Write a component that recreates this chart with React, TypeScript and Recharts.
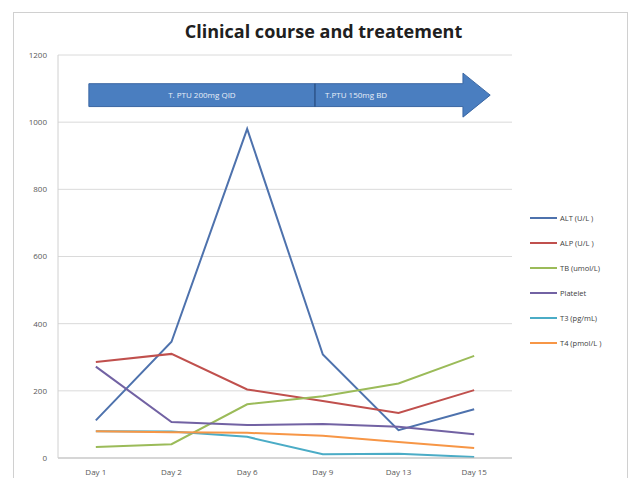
import { LineChart, Line, XAxis, YAxis, CartesianGrid, Legend, ReferenceArea } from 'recharts';

const days = ['Day 1', 'Day 2', 'Day 6', 'Day 9', 'Day 13', 'Day 15'];
const alt = [112, 346, 980, 308, 83, 145];
const alp = [286, 310, 204, 170, 134, 202];
const tb = [33, 41, 160, 184, 222, 304];
const platelet = [272, 107, 98, 101, 93, 71];
const t3 = [80, 79, 63, 11, 13, 3];
const t4 = [80, 77, 75, 66, 48, 30];
const yTicks = [0, 200, 400, 600, 800, 1000, 1200];

const series = [
  { key: 'alt', name: 'ALT (U/L )', color: '#4e72ad' },
  { key: 'alp', name: 'ALP (U/L )', color: '#c0504d' },
  { key: 'tb', name: 'TB  (umol/L)', color: '#9bbb59' },
  { key: 'platelet', name: 'Platelet', color: '#7262a3' },
  { key: 't3', name: 'T3 (pg/mL)', color: '#4bacc6' },
  { key: 't4', name: 'T4 (pmol/L )', color: '#f79646' },
];

const data = days.map((day, i) => ({
  day,
  alt: alt[i],
  alp: alp[i],
  tb: tb[i],
  platelet: platelet[i],
  t3: t3[i],
  t4: t4[i],
}));

const font = '"Open Sans", "Liberation Sans", sans-serif';

// treatment arrow drawn over the reference area box
function TreatmentArrow(props: any) {
  const { x, y, width, height } = props;
  const start = x + width * 0.068;
  const split = x + width * 0.566;
  const bodyEnd = x + width * 0.892;
  const tip = x + width * 0.952;
  const mid = y + height / 2;
  const body = height * 0.52;
  const path = [
    `M${start},${mid - body / 2}`,
    `L${bodyEnd},${mid - body / 2}`,
    `L${bodyEnd},${y}`,
    `L${tip},${mid}`,
    `L${bodyEnd},${y + height}`,
    `L${bodyEnd},${mid + body / 2}`,
    `L${start},${mid + body / 2}`,
    'Z',
  ].join(' ');
  return (
    <g>
      <path d={path} fill="#4a7ec0" stroke="#3b67a3" strokeWidth={1} />
      <line x1={split} x2={split} y1={mid - body / 2} y2={mid + body / 2} stroke="#1f3f6e" strokeWidth={1} />
      <text x={(start + split) / 2} y={mid + 3} textAnchor="middle" fill="#e8eef8" fontSize={8} fontFamily={font}>
        T. PTU 200mg QID
      </text>
      <text x={split + 10} y={mid + 3} fill="#e8eef8" fontSize={8} fontFamily={font}>
        T.PTU 150mg BD
      </text>
    </g>
  );
}

function LegendList({ payload }: any) {
  const items = [...(payload || [])].sort(
    (a: any, b: any) =>
      series.findIndex((s) => s.name === a.value) - series.findIndex((s) => s.name === b.value)
  );
  return (
    <div style={{ fontFamily: font, fontSize: 7.5, color: '#404040' }}>
      {items.map((item: any) => (
        <div key={item.value} style={{ display: 'flex', alignItems: 'center', height: 25 }}>
          <span style={{ display: 'inline-block', width: 27, height: 2, background: item.color, marginRight: 3 }} />
          <span>{item.value}</span>
        </div>
      ))}
    </div>
  );
}

export default function App() {
  return (
    <div style={{ position: 'absolute', left: 0, top: 0, width: 633, height: 478, overflow: 'hidden', background: '#fff' }}>
      <div
        style={{
          position: 'absolute',
          left: 13,
          top: 12,
          width: 615,
          height: 500,
          border: '1px solid #d0d0d0',
          boxSizing: 'border-box',
        }}
      />
      <div
        style={{
          position: 'absolute',
          left: 162,
          top: 19,
          width: 323,
          textAlign: 'center',
          fontFamily: font,
          fontWeight: 700,
          fontSize: 18,
          color: '#202020',
          whiteSpace: 'nowrap',
        }}
      >
        Clinical course and treatement
      </div>
      <LineChart
        width={633}
        height={478}
        data={data}
        margin={{ top: 55, right: 121, bottom: 0, left: 0 }}
        style={{ position: 'absolute', left: 0, top: 0 }}
      >
        <CartesianGrid vertical={false} stroke="#dadada" />
        <XAxis
          dataKey="day"
          scale="band"
          height={20}
          tickSize={0}
          tickMargin={11}
          stroke="#bfbfbf"
          tick={{ fontSize: 8, fill: '#595959', fontFamily: font }}
        />
        <YAxis
          width={58}
          domain={[0, 1200]}
          ticks={yTicks}
          tickSize={0}
          tickMargin={11}
          stroke="#d0d0d0"
          tick={{ fontSize: 8, fill: '#595959', fontFamily: font }}
        />
        <ReferenceArea x1="Day 1" x2="Day 15" y1={1015} y2={1146} shape={<TreatmentArrow />} ifOverflow="visible" />
        {series.map((s) => (
          <Line
            key={s.key}
            type="linear"
            dataKey={s.key}
            name={s.name}
            stroke={s.color}
            strokeWidth={2}
            dot={false}
            isAnimationActive={false}
          />
        ))}
        <Legend
          layout="horizontal"
          verticalAlign="middle"
          align="center"
          content={<LegendList />}
          wrapperStyle={{ left: 530, top: 205, width: 100 }}
        />
      </LineChart>
    </div>
  );
}
